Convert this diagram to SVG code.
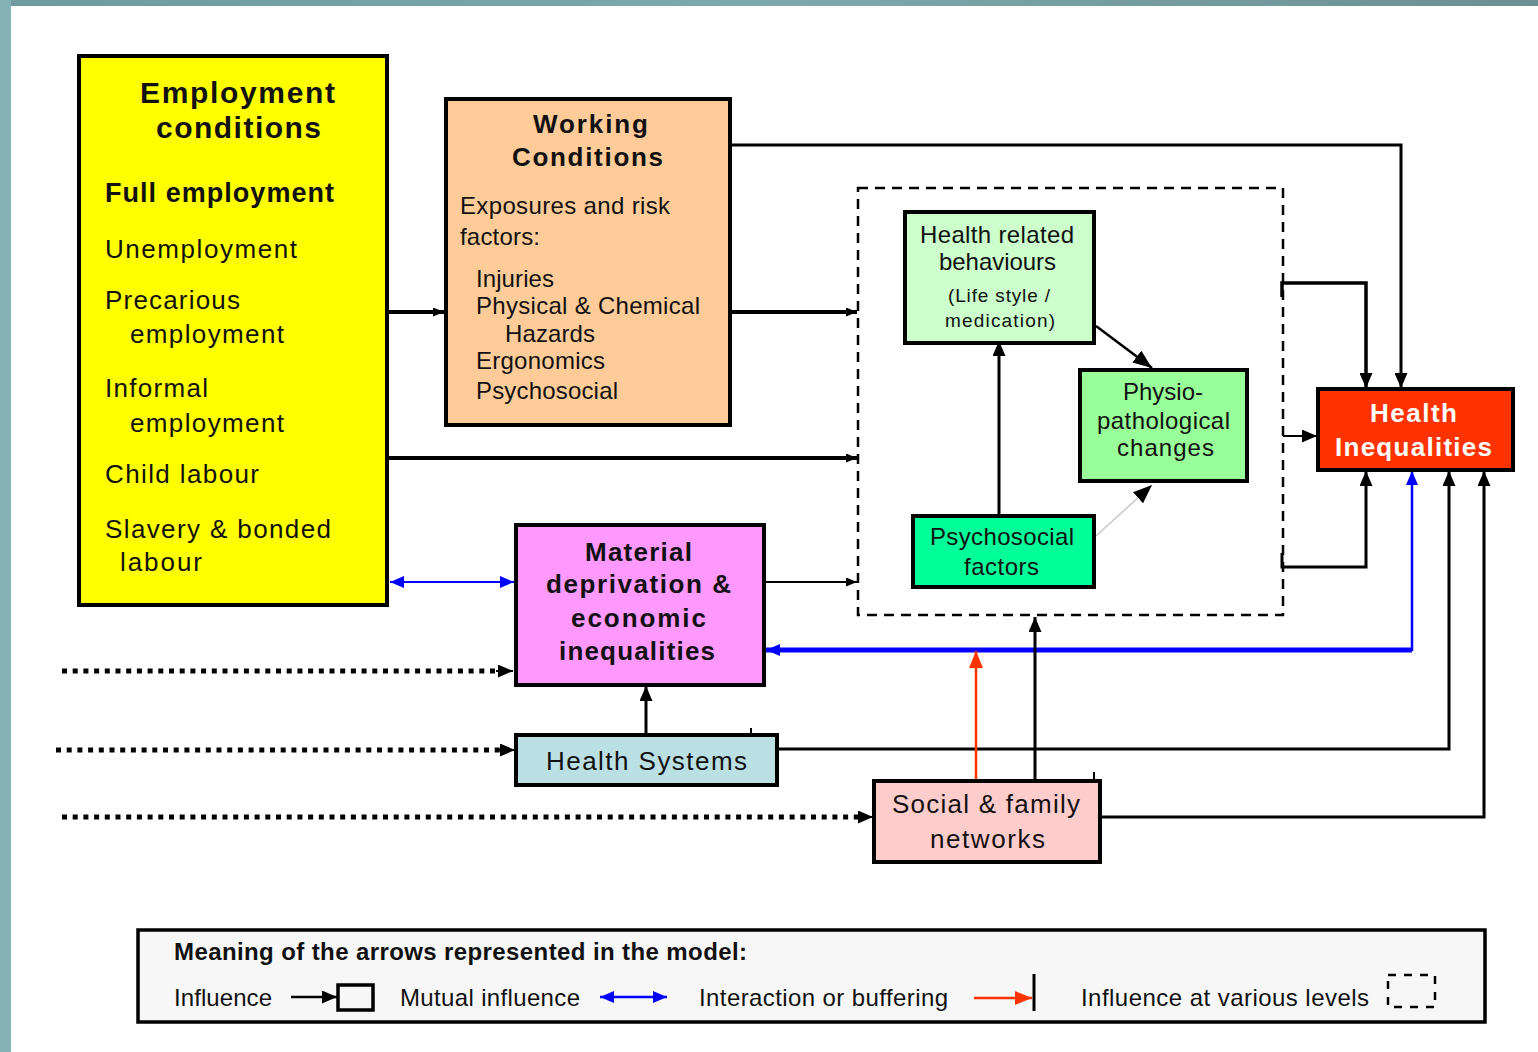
<svg xmlns="http://www.w3.org/2000/svg" width="1538" height="1052" viewBox="0 0 1538 1052">
<style>
text{font-family:"Liberation Sans",Arial,sans-serif;fill:#111}
.b{font-weight:bold}
.box{stroke:#000;stroke-width:4}
.c{fill:none;stroke:#000}
</style>
<defs>
<linearGradient id="topg" x1="0" y1="0" x2="1" y2="0">
<stop offset="0" stop-color="#6f9a9e"/><stop offset="0.5" stop-color="#7ea9ac"/><stop offset="1" stop-color="#6b9094"/>
</linearGradient>
<marker id="ah" markerUnits="userSpaceOnUse" markerWidth="15" markerHeight="13" refX="15" refY="6.5" orient="auto"><path d="M0,0L15,6.5L0,13z" fill="#000"/></marker>
<marker id="ahs" markerUnits="userSpaceOnUse" markerWidth="11" markerHeight="9" refX="11" refY="4.5" orient="auto"><path d="M0,0L11,4.5L0,9z" fill="#000"/></marker>
<marker id="ahl" markerUnits="userSpaceOnUse" markerWidth="19" markerHeight="15" refX="19" refY="7.5" orient="auto"><path d="M0,0L19,7.5L0,15z" fill="#000"/></marker>
<marker id="ahb" markerUnits="userSpaceOnUse" markerWidth="14" markerHeight="12" refX="14" refY="6" orient="auto-start-reverse"><path d="M0,0L14,6L0,12z" fill="#0000ff"/></marker>
<marker id="ahr" markerUnits="userSpaceOnUse" markerWidth="17" markerHeight="14" refX="17" refY="7" orient="auto"><path d="M0,0L17,7L0,14z" fill="#ff3300"/></marker>
</defs>
<rect width="1538" height="1052" fill="#fff"/>
<rect x="0" y="0" width="1538" height="6" fill="url(#topg)"/>
<rect x="0" y="0" width="11" height="1052" fill="#85b2b5"/>

<g id="connectors">
<line class="c" x1="388" y1="312" x2="444" y2="312" stroke-width="4" marker-end="url(#ahs)"/>
<line class="c" x1="730" y1="312" x2="857" y2="312" stroke-width="4" marker-end="url(#ahs)"/>
<line class="c" x1="388" y1="458" x2="857" y2="458" stroke-width="4" marker-end="url(#ahs)"/>
<line x1="390" y1="582" x2="514" y2="582" stroke="#0000ff" stroke-width="2" marker-start="url(#ahb)" marker-end="url(#ahb)"/>
<line class="c" x1="765" y1="582" x2="857" y2="582" stroke-width="2" marker-end="url(#ahs)"/>
<line class="c" x1="999" y1="516" x2="999" y2="341" stroke-width="3" marker-end="url(#ah)"/>
<line class="c" x1="1096" y1="326" x2="1152" y2="368" stroke-width="2.5" marker-end="url(#ahl)"/>
<line x1="1096" y1="536" x2="1152" y2="485" stroke="#c8c8c8" stroke-width="1.5" marker-end="url(#ahl)"/>
<path class="c" d="M730,145H1401V388" stroke-width="3" marker-end="url(#ah)"/>
<path class="c" d="M1282,297V283H1366V388" stroke-width="3.5" marker-end="url(#ah)"/>
<line class="c" x1="1283" y1="436" x2="1317" y2="436" stroke-width="2" marker-end="url(#ah)"/>
<path class="c" d="M1282,553V567H1366V471" stroke-width="3" marker-end="url(#ah)"/>
<line x1="1412" y1="651" x2="1412" y2="471" stroke="#0000ff" stroke-width="2.5" marker-end="url(#ahb)"/>
<path d="M1412,650H766" fill="none" stroke="#0000ff" stroke-width="5" marker-end="url(#ahb)"/>
<path class="c" d="M777,749H1449V471" stroke-width="3" marker-end="url(#ah)"/>
<path class="c" d="M1100,817H1484V471" stroke-width="3" marker-end="url(#ah)"/>
<line class="c" x1="646" y1="735" x2="646" y2="686" stroke-width="3" marker-end="url(#ah)"/>
<line x1="976" y1="781" x2="976" y2="651" stroke="#ff3300" stroke-width="2.5" marker-end="url(#ahr)"/>
<line class="c" x1="1035" y1="781" x2="1035" y2="617" stroke-width="3" marker-end="url(#ah)"/>
<line class="c" x1="751" y1="728" x2="751" y2="735" stroke-width="2"/>
<line class="c" x1="1094" y1="772" x2="1094" y2="781" stroke-width="2"/>
<line x1="62" y1="671" x2="497" y2="671" stroke="#000" stroke-width="5" stroke-dasharray="5 5.7"/>
<line class="c" x1="496" y1="671" x2="513" y2="671" stroke-width="2" marker-end="url(#ah)"/>
<line x1="56" y1="750" x2="500" y2="750" stroke="#000" stroke-width="5" stroke-dasharray="5 5.7"/>
<line class="c" x1="499" y1="750" x2="515" y2="750" stroke-width="2" marker-end="url(#ah)"/>
<line x1="62" y1="817" x2="858" y2="817" stroke="#000" stroke-width="5" stroke-dasharray="5 5.7"/>
<line class="c" x1="857" y1="817" x2="873" y2="817" stroke-width="2" marker-end="url(#ah)"/>
</g>

<g id="levels">
<rect x="858" y="188" width="425" height="427" fill="none" stroke="#000" stroke-width="2.5" stroke-dasharray="10 7"/>
</g>

<g id="employment">
<rect class="box" x="79" y="56" width="308" height="549" fill="#ffff00"/>
<text class="b" x="140" y="103" font-size="30" textLength="195">Employment</text>
<text class="b" x="156" y="138" font-size="30" textLength="165">conditions</text>
<text class="b" x="105" y="202" font-size="27" textLength="229">Full employment</text>
<text x="105" y="258" font-size="26" textLength="192">Unemployment</text>
<text x="105" y="309" font-size="26" textLength="135">Precarious</text>
<text x="130" y="343" font-size="26" textLength="154">employment</text>
<text x="105" y="397" font-size="26" textLength="103">Informal</text>
<text x="130" y="432" font-size="26" textLength="154">employment</text>
<text x="105" y="483" font-size="26" textLength="154">Child labour</text>
<text x="105" y="538" font-size="26" textLength="226">Slavery &amp; bonded</text>
<text x="120" y="571" font-size="26" textLength="82">labour</text>
</g>

<g id="working">
<rect class="box" x="446" y="99" width="284" height="326" fill="#ffcc99"/>
<text class="b" x="533" y="133" font-size="26" textLength="115">Working</text>
<text class="b" x="512" y="166" font-size="26" textLength="151">Conditions</text>
<text x="460" y="214" font-size="24" textLength="210">Exposures and risk</text>
<text x="460" y="245" font-size="24" textLength="80">factors:</text>
<text x="476" y="287" font-size="24" textLength="78">Injuries</text>
<text x="476" y="314" font-size="24" textLength="224">Physical &amp; Chemical</text>
<text x="505" y="342" font-size="24" textLength="90">Hazards</text>
<text x="476" y="369" font-size="24" textLength="129">Ergonomics</text>
<text x="476" y="399" font-size="24" textLength="142">Psychosocial</text>
</g>

<g id="behaviours">
<rect class="box" x="905" y="212" width="189" height="131" fill="#ccffcc"/>
<text x="920" y="243" font-size="24" textLength="154">Health related</text>
<text x="939" y="270" font-size="24" textLength="117">behaviours</text>
<text x="948" y="302" font-size="19" textLength="102">(Life style /</text>
<text x="945" y="327" font-size="19" textLength="110">medication)</text>
</g>

<g id="physio">
<rect class="box" x="1080" y="370" width="167" height="111" fill="#99ff99"/>
<text x="1123" y="400" font-size="24" textLength="80">Physio-</text>
<text x="1097" y="429" font-size="24" textLength="133">pathological</text>
<text x="1117" y="456" font-size="24" textLength="97">changes</text>
</g>

<g id="psychosocial">
<rect class="box" x="913" y="516" width="181" height="71" fill="#00ff99"/>
<text x="930" y="545" font-size="24" textLength="144">Psychosocial</text>
<text x="964" y="575" font-size="24" textLength="75">factors</text>
</g>

<g id="health-inequalities">
<rect class="box" x="1318" y="389" width="195" height="81" fill="#ff3300"/>
<text class="b" x="1370" y="422" font-size="26" textLength="87" style="fill:#fff">Health</text>
<text class="b" x="1335" y="456" font-size="26" textLength="157" style="fill:#fff">Inequalities</text>
</g>

<g id="material">
<rect class="box" x="516" y="525" width="248" height="160" fill="#ff99ff"/>
<text class="b" x="585" y="561" font-size="26" textLength="107">Material</text>
<text class="b" x="546" y="593" font-size="26" textLength="185">deprivation &amp;</text>
<text class="b" x="571" y="627" font-size="26" textLength="135">economic</text>
<text class="b" x="559" y="660" font-size="26" textLength="156">inequalities</text>
</g>

<g id="health-systems">
<rect class="box" x="516" y="735" width="261" height="50" fill="#bbe0e3"/>
<text x="546" y="770" font-size="26" textLength="201">Health Systems</text>
</g>

<g id="social">
<rect class="box" x="874" y="781" width="226" height="81" fill="#ffcccc"/>
<text x="892" y="813" font-size="26" textLength="188">Social &amp; family</text>
<text x="930" y="848" font-size="26" textLength="115">networks</text>
</g>

<g id="legend">
<rect x="138" y="930" width="1347" height="92" fill="#f7f7f7" stroke="#000" stroke-width="3.5"/>
<text class="b" x="174" y="960" font-size="24" textLength="573">Meaning of the arrows represented in the model:</text>
<text x="174" y="1006" font-size="24" textLength="98">Influence</text>
<line class="c" x1="291" y1="997" x2="337" y2="997" stroke-width="2.5" marker-end="url(#ah)"/>
<rect x="338" y="985" width="35" height="25" fill="none" stroke="#000" stroke-width="3.5"/>
<text x="400" y="1006" font-size="24" textLength="180">Mutual influence</text>
<line x1="600" y1="997" x2="667" y2="997" stroke="#0000ff" stroke-width="2.5" marker-start="url(#ahb)" marker-end="url(#ahb)"/>
<text x="699" y="1006" font-size="24" textLength="249">Interaction or buffering</text>
<line x1="974" y1="998" x2="1032" y2="998" stroke="#ff3300" stroke-width="2.5" marker-end="url(#ahr)"/>
<line class="c" x1="1034" y1="974" x2="1034" y2="1011" stroke-width="3"/>
<text x="1081" y="1006" font-size="24" textLength="288">Influence at various levels</text>
<rect x="1388" y="975" width="47" height="32" fill="none" stroke="#000" stroke-width="2.5" stroke-dasharray="8 8"/>
</g>
</svg>
